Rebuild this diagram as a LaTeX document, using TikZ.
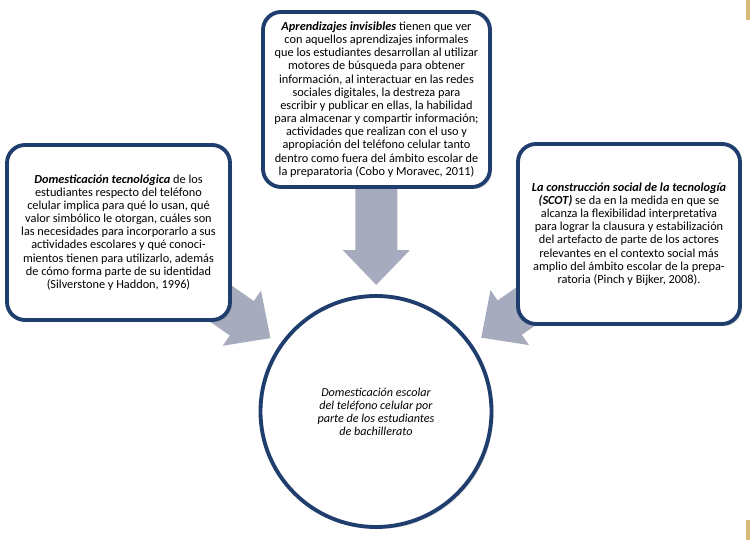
\documentclass[tikz,border=0pt]{standalone}
\usepackage{fontspec}
\setmainfont{Carlito}
\usetikzlibrary{arrows.meta,shadows,backgrounds}
\definecolor{boxblue}{RGB}{31,62,110}
\definecolor{arrowgray}{RGB}{166,172,190}
\definecolor{pagetan}{RGB}{218,186,122}

\begin{document}
\begin{tikzpicture}[
   box/.style={rectangle, rounded corners=0.36cm, draw=boxblue, line width=2.2pt, fill=white,
               align=center, inner sep=0pt, font=\fontsize{7}{7.5}\selectfont,
               drop shadow={shadow xshift=1.2pt, shadow yshift=-1.2pt, opacity=0.25}},
   bigarrow/.style={arrowgray, line width=0.84cm, -{Triangle[length=0.7cm, width=1.3cm]}}
]
   \useasboundingbox (0,0) rectangle (15,10.8);

   \node [box, minimum width=4.54cm, minimum height=3.5cm] (invisibles) at (7.53,8.81)
      {\textbf{\textit{Aprendizajes invisibles}} tienen que ver\\
       con aquellos aprendizajes informales\\
       que los estudiantes desarrollan al utilizar\\
       motores de búsqueda para obtener\\
       información, al interactuar en las redes\\
       sociales digitales, la destreza para\\
       escribir y publicar en ellas, la habilidad\\
       para almacenar y compartir información;\\
       actividades que realizan con el uso y\\
       apropiación del teléfono celular tanto\\
       dentro como fuera del ámbito escolar de\\
       la preparatoria (Cobo y Moravec, 2011)};
   \node [box, minimum width=4.46cm, minimum height=3.5cm] (tecno) at (2.37,6.15)
      {\textbf{\textit{Domesticación tecnológica}} de los\\
       estudiantes respecto del teléfono\\
       celular implica para qué lo usan, qué\\
       valor simbólico le otorgan, cuáles son\\
       las necesidades para incorporarlo a sus\\
       actividades escolares y qué conoci-\\
       mientos tienen para utilizarlo, además\\
       de cómo forma parte de su identidad\\
       (Silverstone y Haddon, 1996)};
   \node [box, minimum width=4.44cm, minimum height=3.6cm] (scot) at (12.58,6.12)
      {\textbf{\textit{La construcción social de la tecnología}}\\
       \textbf{\textit{(SCOT)}} se da en la medida en que se\\
       alcanza la flexibilidad interpretativa\\
       para lograr la clausura y estabilización\\
       del artefacto de parte de los actores\\
       relevantes en el contexto social más\\
       amplio del ámbito escolar de la prepa-\\
       ratoria (Pinch y Bijker, 2008).};
   \node [box, circle, minimum size=4.62cm, font=\itshape\fontsize{6.9}{7.4}\selectfont] (escolar) at (7.52,2.57)
      {Domesticación escolar\\
       del teléfono celular por\\
       parte de los estudiantes\\
       de bachillerato};

   \begin{scope}[on background layer]
   \path[bigarrow] (invisibles.center) edge[shorten >=0.18cm] (escolar)
                   (tecno.center) edge[shorten >=0.22cm] (escolar)
                   (scot.center) edge[shorten >=0.22cm] (escolar);
   \end{scope}

   \fill[pagetan] (14.92,10.4) rectangle (15,10.8);
   \fill[pagetan] (14.92,0) rectangle (15,0.4);
\end{tikzpicture}
\end{document}
